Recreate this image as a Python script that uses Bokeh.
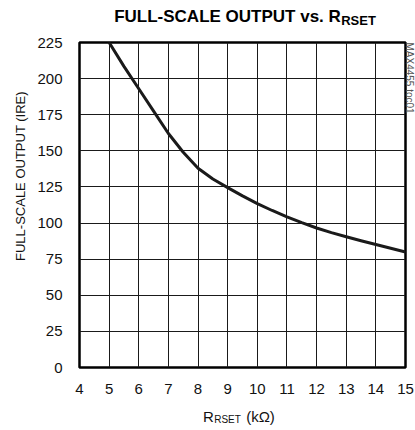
from bokeh.plotting import figure
from bokeh.models import FixedTicker, Range1d, Title, LinearAxis
from bokeh.embed import file_html
from bokeh.resources import INLINE

# Data
r_kohm = [5, 5.5, 6, 6.5, 7, 7.5, 8, 8.5, 9, 9.5, 10, 10.5, 11, 11.5, 12, 12.5, 13, 13.5, 14, 14.5, 15]
output_ire = [225, 208.5, 193, 177.5, 162, 149, 138, 130.5, 124.5, 118.8, 113.5, 108.7, 104.3, 100.3,
              96.6, 93.4, 90.5, 87.8, 85.2, 82.6, 80]
x_ticks = [4, 5, 6, 7, 8, 9, 10, 11, 12, 13, 14, 15]
y_ticks = [0, 25, 50, 75, 100, 125, 150, 175, 200, 225]

FONT = "Liberation Sans"

p = figure(width=415, height=430,
           x_range=Range1d(4, 15), y_range=Range1d(0, 225),
           output_backend="svg", toolbar_location=None, title=None,
           min_border_left=79, min_border_right=10, min_border_top=42, min_border_bottom=63,
           background_fill_color="white", border_fill_color="white")

# pixel-like range used only to place the text pieces of title / x label
p.extra_x_ranges = {"px": Range1d(79, 405)}

for ax in (p.xaxis, p.yaxis):
    ax.axis_line_color = None
    ax.major_tick_line_color = None
    ax.minor_tick_line_color = None
    ax.major_tick_out = 0
    ax.major_tick_in = 0
    ax.major_label_text_font = FONT
    ax.major_label_text_font_size = "15px"
    ax.major_label_text_color = "#111111"
    ax.axis_label_text_font = FONT
    ax.axis_label_text_font_style = "normal"
    ax.axis_label_text_color = "#111111"

p.xaxis.ticker = FixedTicker(ticks=x_ticks, minor_ticks=[])
p.yaxis.ticker = FixedTicker(ticks=y_ticks, minor_ticks=[])
p.xaxis.major_label_standoff = 16
p.yaxis.major_label_standoff = 17

p.yaxis.axis_label = "\u00a0" * 16 + "FULL-SCALE OUTPUT (IRE)"
p.yaxis.axis_label_text_font_size = "13px"
p.yaxis.axis_label_standoff = 6

p.xgrid.ticker = FixedTicker(ticks=x_ticks, minor_ticks=[])
p.ygrid.ticker = FixedTicker(ticks=y_ticks, minor_ticks=[])
p.grid.grid_line_color = "#1a1a1a"
p.grid.grid_line_width = 1

p.outline_line_color = "black"
p.outline_line_width = 2.5
p.outline_line_alpha = 1.0

p.line(r_kohm, output_ire, line_width=3, line_color="#1a1a1a", line_join="round", line_cap="round")


def text_axis(side, centers, texts, size, standoff, bold=False, color="#111111"):
    ax = LinearAxis(x_range_name="px", ticker=FixedTicker(ticks=centers, minor_ticks=[]),
                    major_label_overrides=dict(zip(centers, texts)),
                    axis_line_color=None, major_tick_line_color=None, minor_tick_line_color=None,
                    major_tick_in=0, major_tick_out=0, major_label_standoff=standoff,
                    major_label_text_font=FONT, major_label_text_font_size=size,
                    major_label_text_font_style="bold" if bold else "normal",
                    major_label_text_color=color)
    p.add_layout(ax, side)


# Title "FULL-SCALE OUTPUT vs. R" with subscript "RSET"
text_axis("above", [227], ["FULL-SCALE OUTPUT vs. R"], "17px", 17, bold=True, color="#000000")
text_axis("above", [358], ["RSET"], "13px", -24, bold=True, color="#000000")

# X axis label "R" subscript "RSET" "(kΩ)"
text_axis("below", [208, 260], ["R", "(kΩ)"], "15px", 11)
text_axis("below", [227], ["RSET"], "10px", -14)

p.add_layout(Title(text="MAX4455 toc01", align="left", text_font=FONT,
                   text_font_style="normal", text_font_size="10px", text_color="#555555",
                   standoff=-3.5), "right")

open("out.html", "w").write(file_html(p, INLINE))
